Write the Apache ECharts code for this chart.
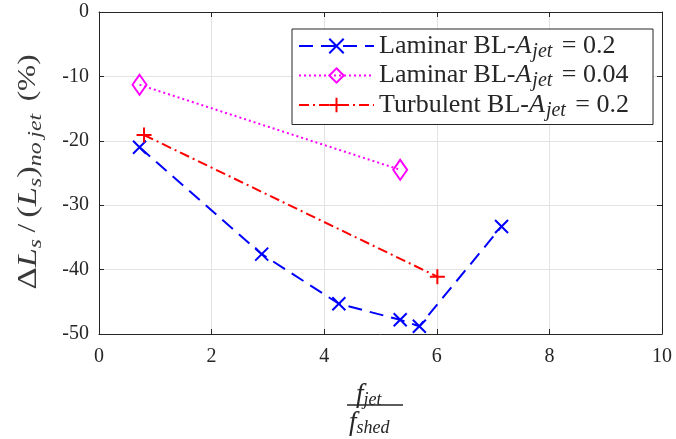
<!DOCTYPE html>
<html>
<head>
<meta charset="utf-8">
<script src="https://cdn.jsdelivr.net/npm/echarts@6/dist/echarts.min.js"></script>
<style>html,body{margin:0;padding:0;background:#fff}#c{width:676px;height:439px}</style>
</head>
<body>
<div id="c"></div>
<script>
const xTicks = [0, 2, 4, 6, 8, 10];
const yTicks = [-50, -40, -30, -20, -10, 0];
const lamA02X = [0.72, 2.89, 4.26, 5.35, 5.69, 7.15];
const lamA02Y = [-21.0, -37.6, -45.3, -47.8, -48.8, -33.3];
const lamA004X = [0.72, 5.35];
const lamA004Y = [-11.3, -24.5];
const turbA02X = [0.80, 6.01];
const turbA02Y = [-19.1, -41.1];
const seriesNames = ['lam02', 'lam004', 'turb02'];
const legendLabels = {
  lam02: 'Laminar BL-{i|A}{s|jet}{n| = 0.2}',
  lam004: 'Laminar BL-{i|A}{s|jet}{n| = 0.04}',
  turb02: 'Turbulent BL-{i|A}{s|jet}{n| = 0.2}'
};

const pairs = (xs, ys) => xs.map((x, i) => [x, ys[i]]);
const FONT = 'Liberation Serif';
const TXT = '#262626';
const LBL = '#3a3a3a';
const crossPath = 'path://M0,0L10,10M10,0L0,10';
const plusPath = 'path://M5,0L5,10M0,5L10,5';

const chart = echarts.init(document.getElementById('c'));
function axis(extra) {
  return Object.assign({
    axisLine: { show: true, onZero: false, lineStyle: { color: TXT, width: 1 } },
    axisTick: { show: true, inside: true, length: 5, lineStyle: { color: TXT } },
    axisLabel: { color: TXT, fontFamily: FONT, fontSize: 20 }
  }, extra);
}
chart.setOption({
  animation: false,
  grid: { left: 99, right: 14, top: 12, bottom: 105, show: false },
  xAxis: [
    axis({
      type: 'value', min: 0, max: 10, interval: 2, position: 'bottom',
      splitLine: { show: true, lineStyle: { color: '#e3e3e3' } },
      axisLabel: { color: TXT, fontFamily: FONT, fontSize: 20, margin: 13,
        formatter: v => xTicks.includes(v) ? String(v) : '' }
    }),
    axis({
      type: 'value', min: 0, max: 10, interval: 2, position: 'top',
      splitLine: { show: false }, axisLabel: { show: false }
    })
  ],
  yAxis: [
    axis({
      type: 'value', min: -50, max: 0, interval: 10, position: 'left',
      splitLine: { show: true, lineStyle: { color: '#e3e3e3' } },
      axisLabel: { color: TXT, fontFamily: FONT, fontSize: 20, margin: 10,
        formatter: v => yTicks.includes(v) ? String(v) : '' }
    }),
    axis({
      type: 'value', min: -50, max: 0, interval: 10, position: 'right',
      splitLine: { show: false }, axisLabel: { show: false }
    })
  ],
  legend: {
    show: true,
    data: seriesNames,
    orient: 'vertical',
    left: 292, top: 29,
    itemWidth: 75, itemHeight: 18, itemGap: 1,
    padding: [4, 24, 4, 6],
    borderColor: TXT, borderWidth: 1, backgroundColor: '#fff',
    formatter: name => legendLabels[name],
    textStyle: {
      color: TXT, fontFamily: FONT, fontSize: 26,
      rich: {
        i: { fontSize: 26, fontFamily: FONT, fontStyle: 'italic', color: TXT, padding: [0, 1, 0, 0] },
        s: { fontSize: 20, fontFamily: FONT, fontStyle: 'italic', color: TXT, padding: [11, 3, 0, 0] },
        n: { fontSize: 26, fontFamily: FONT, color: TXT }
      }
    }
  },
  series: [
    {
      name: 'lam02', type: 'line', data: pairs(lamA02X, lamA02Y),
      symbol: crossPath, symbolSize: 13, z: 3,
      lineStyle: { color: '#0000ff', width: 2, type: [14, 8] },
      itemStyle: { color: 'rgba(0,0,0,0)', borderColor: '#0000ff', borderWidth: 2 }
    },
    {
      name: 'lam004', type: 'line', data: pairs(lamA004X, lamA004Y),
      symbol: 'diamond', symbolSize: [14, 20], z: 3,
      lineStyle: { color: '#ff00ff', width: 2, type: [2, 3] },
      itemStyle: { color: 'rgba(0,0,0,0)', borderColor: '#ff00ff', borderWidth: 2 }
    },
    {
      name: 'turb02', type: 'line', data: pairs(turbA02X, turbA02Y),
      symbol: plusPath, symbolSize: 15, z: 3,
      lineStyle: { color: '#ff0000', width: 2, type: [10, 4, 2, 4] },
      itemStyle: { color: 'rgba(0,0,0,0)', borderColor: '#ff0000', borderWidth: 2 }
    }
  ],
  graphic: [
    { type: 'text', x: 29, y: 172, rotation: Math.PI / 2, scaleX: 1.08, scaleY: 0.85,
      style: {
        text: '{d|Δ}{L|L}{s|s}{n|\u2009/\u2009}{p|(}{L|L}{s|s}{p|)}{s|no\u2009jet}{n|\u2009\u2009(%)}',
        align: 'center', verticalAlign: 'middle', fill: LBL,
        rich: {
          d: { fontSize: 32, fontFamily: FONT, fill: LBL },
          L: { fontSize: 32, fontFamily: FONT, fontStyle: 'italic', fill: LBL },
          s: { fontSize: 22, fontFamily: FONT, fontStyle: 'italic', fill: LBL, padding: [16, 0, 0, 0] },
          n: { fontSize: 29, fontFamily: FONT, fill: LBL },
          p: { fontSize: 32, fontFamily: FONT, fill: LBL }
        }
      } },
    { type: 'text', left: 356, top: 381, style: {
      text: '{f|f}{s|jet}', fill: TXT,
      rich: { f: { fontSize: 27, fontFamily: FONT, fontStyle: 'italic', fill: TXT },
              s: { fontSize: 18, fontFamily: FONT, fontStyle: 'italic', fill: TXT, padding: [12, 0, 0, 0] } } } },
    { type: 'line', shape: { x1: 347, y1: 405, x2: 403, y2: 405 }, style: { stroke: TXT, lineWidth: 1.5 } },
    { type: 'text', left: 349, top: 409, style: {
      text: '{f|f}{s|shed}', fill: TXT,
      rich: { f: { fontSize: 27, fontFamily: FONT, fontStyle: 'italic', fill: TXT },
              s: { fontSize: 18, fontFamily: FONT, fontStyle: 'italic', fill: TXT, padding: [12, 0, 0, 0] } } } }
  ]
});
</script>
</body>
</html>
